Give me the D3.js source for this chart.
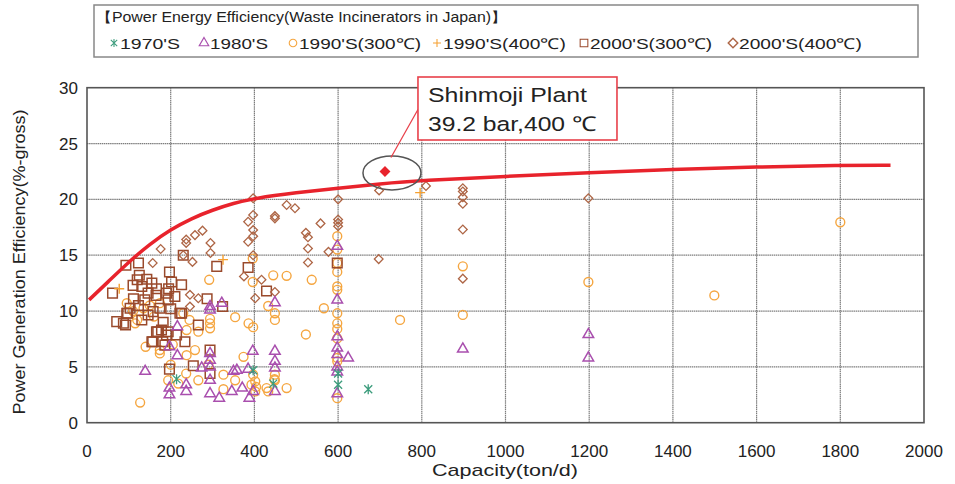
<!DOCTYPE html>
<html>
<head>
<meta charset="utf-8">
<script src="https://cdn.jsdelivr.net/npm/d3@7"></script>
<style>
  body { margin: 0; background: #fff; }
  svg { font-family: "Liberation Sans", Arial, sans-serif; }
</style>
</head>
<body>
<svg id="chart" width="955" height="484"></svg>
<script>
// values: [capacity ton/d, efficiency %]
const s1970 = [[214,3.9],[397,4.7],[445,3.5],[600,3.4],[600,4.4],[672,3.0]];

const s1980 = [[139,4.6],[197,3.1],[197,2.5],[237,3.4],[237,2.8],[216,8.6],[197,6.8],[216,6.0],
  [294,10.4],[294,10.1],[322,10.7],[294,6.2],[294,5.6],[294,5.0],[294,3.8],[294,2.6],[274,4.9],
  [316,2.2],[346,2.8],[350,4.6],[358,4.7],[371,3.1],[385,4.8],[396,6.4],[388,2.2],[397,2.8],
  [449,10.75],[449,6.4],[449,5.5],[449,4.9],[449,2.8],[598,15.8],[598,11.0],[598,7.7],[598,6.7],
  [598,6.1],[598,5.0],[598,4.55],[598,2.6],[624,5.8],[898,6.6],[1198,7.9],[1198,5.8]];

const s1990_300 = [[127,1.8],[292,12.8],[396,14.7],[396,12.6],[445,13.2],[477,13.15],[354,9.45],
  [386,8.9],[397,8.55],[433,10.45],[449,9.8],[449,9.2],[294,8.9],[294,8.45],[294,9.3],[266,8.15],
  [245,9.2],[238,8.3],[258,6.5],[238,6.05],[174,6.5],[174,6.2],[266,3.8],[237,4.4],[194,3.8],
  [218,3.5],[290,5.2],[326,4.3],[326,3.0],[354,3.8],[374,5.9],[402,3.7],[402,2.8],[397,4.3],
  [429,3.1],[449,4.3],[449,3.8],[477,3.1],[95,10.7],[115,8.9],[135,10.25],[174,10.7],[230,9.8],
  [598,16.7],[598,15.5],[598,14.3],[598,13.5],[598,12.2],[598,11.9],[598,9.8],[598,8.9],[598,8.4],
  [598,7.55],[598,5.8],[598,5.5],[598,2.2],[537,12.8],[566,10.25],[523,7.9],[748,9.2],[898,14.0],
  [898,9.65],[1198,12.6],[1800,17.95],[1499,11.4],[404,3.2],[393,3.4],[433,2.8],[448,3.9],
  [200,5.2],[160,9.5],[150,10.5],[110,10.0],[120,9.2],[205,7.0],[140,6.8]];

const s1990_400 = [[77,12.0],[325,14.6],[796,20.6]];

const s2000_300 = [[61,11.6],[93,14.1],[123,14.3],[125,13.2],[120,12.8],[143,12.85],[131,12.2],
  [155,12.5],[166,12.0],[146,11.6],[165,11.4],[111,11.1],[103,10.25],[123,10.5],[95,9.8],[71,9.05],
  [87,8.9],[131,9.2],[146,9.65],[158,9.95],[174,10.25],[194,11.0],[197,13.5],[202,12.6],[230,15.0],
  [190,11.6],[166,8.15],[178,8.3],[194,8.15],[190,7.85],[155,7.25],[186,6.95],[214,7.85],[234,7.25],
  [222,9.8],[266,8.75],[310,14.0],[385,13.9],[324,10.4],[287,11.1],[429,11.8],[294,6.5],[254,5.1],
  [294,4.4],[197,4.8],[226,12.35],[226,9.8],[598,14.3],[97,9.8],[92,8.75],[169,8.15],[157,7.25],
  [181,7.25],[195,12.0],[110,12.3],[138,11.0],[210,11.3],[200,10.2],[182,9.0]];

const s2000_400 = [[176,15.55],[157,14.3],[237,16.4],[237,16.1],[258,16.8],[276,17.2],[295,16.1],
  [295,15.2],[252,14.4],[230,15.0],[397,20.1],[397,18.6],[385,18.0],[397,17.25],[385,16.2],
  [397,16.7],[449,18.5],[449,18.3],[477,19.5],[497,19.2],[375,13.1],[417,12.8],[449,11.7],
  [402,11.15],[246,11.45],[266,11.15],[246,10.4],[558,17.85],[523,17.0],[528,16.6],[528,15.6],
  [577,15.3],[528,14.35],[697,14.65],[698,20.8],[600,20.0],[600,18.2],[600,17.9],[600,17.6],
  [898,21.0],[898,20.7],[898,20.2],[898,19.6],[898,17.3],[898,12.9],[810,21.2],[1198,20.1],[397,15.0]];

const curve = [[5,11.0],[50,12.6],[100,14.4],[150,16.0],[200,17.3],[250,18.3],[300,19.05],[350,19.65],
  [400,20.1],[500,20.6],[600,21.0],[700,21.4],[800,21.7],[1000,22.05],[1200,22.4],[1400,22.7],
  [1600,22.9],[1800,23.05],[1920,23.05]];

const shinmoji = [712, 22.5];

const xTicks = [0,200,400,600,800,1000,1200,1400,1600,1800,2000];
const yTicks = [0,5,10,15,20,25,30];

const svg = d3.select("#chart");
const x = d3.scaleLinear().domain([0, 2000]).range([87, 924]);
const y = d3.scaleLinear().domain([0, 30]).range([422.7, 87.7]);

// grid
svg.append("g").selectAll("line").data(xTicks.slice(1, -1)).enter().append("line")
  .attr("x1", d => x(d)).attr("x2", d => x(d)).attr("y1", y(0)).attr("y2", y(30))
  .attr("stroke", "#7d7d7d").attr("stroke-width", 1.2).attr("stroke-dasharray", "1.5,0.6");
svg.append("g").selectAll("line").data(yTicks.slice(1, -1)).enter().append("line")
  .attr("y1", d => y(d)).attr("y2", d => y(d)).attr("x1", x(0)).attr("x2", x(2000))
  .attr("stroke", "#7d7d7d").attr("stroke-width", 1.2).attr("stroke-dasharray", "1.5,0.6");

// frame
svg.append("rect").attr("x", x(0)).attr("y", y(30))
  .attr("width", x(2000) - x(0)).attr("height", y(0) - y(30))
  .attr("fill", "none").attr("stroke", "#555").attr("stroke-width", 1.6);

// tick labels
svg.append("g").selectAll("text").data(xTicks).enter().append("text")
  .attr("x", d => x(d)).attr("y", 457).attr("text-anchor", "middle")
  .attr("font-size", 17).attr("fill", "#222").text(d => d);
svg.append("g").selectAll("text").data(yTicks).enter().append("text")
  .attr("x", 78).attr("y", d => y(d) + 6).attr("text-anchor", "end")
  .attr("font-size", 17).attr("fill", "#222").text(d => d);

svg.append("text").attr("x", 505).attr("y", 476).attr("text-anchor", "middle")
  .attr("font-size", 17).attr("fill", "#222")
  .attr("textLength", 146).attr("lengthAdjust", "spacingAndGlyphs")
  .text("Capacity(ton/d)");
svg.append("text").attr("transform", "translate(25,262) rotate(-90)").attr("text-anchor", "middle")
  .attr("font-size", 16).attr("fill", "#222")
  .attr("textLength", 305).attr("lengthAdjust", "spacingAndGlyphs")
  .text("Power Generation Efficiency(%-gross)");

// marker shapes
const sq = d3.symbol().type(d3.symbolSquare).size(92)();
const circ = d3.symbol().type(d3.symbolCircle).size(62)();
const tri = d3.symbol().type(d3.symbolTriangle).size(48)();
const dia = d3.symbol().type(d3.symbolSquare).size(38)();
const plus = "M-5,0H5M0,-5V5";
const star = "M-4,-4L4,4M-4,4L4,-4M0,-5V5";

const series = [
  { data: s1990_300, path: circ, color: "#f5a640", rot: 0, sw: 1.4 },
  { data: s2000_300, path: sq, color: "#9a4a2c", rot: 0, sw: 1.5 },
  { data: s2000_400, path: dia, color: "#ae6646", rot: 45, sw: 1.3 },
  { data: s1980, path: tri, color: "#a94fae", rot: 0, sw: 1.5 },
  { data: s1990_400, path: plus, color: "#f5a030", rot: 0, sw: 1.4 },
  { data: s1970, path: star, color: "#3c9c7c", rot: 0, sw: 1.3 }
];

series.forEach(s => {
  svg.append("g").selectAll("path").data(s.data).enter().append("path")
    .attr("d", s.path)
    .attr("transform", d => `translate(${x(d[0])},${y(d[1])}) rotate(${s.rot})`)
    .attr("fill", "none").attr("stroke", s.color).attr("stroke-width", s.sw);
});

// trend curve
svg.append("path").datum(curve)
  .attr("d", d3.line().x(d => x(d[0])).y(d => y(d[1])).curve(d3.curveBasis))
  .attr("fill", "none").attr("stroke", "#e8232c").attr("stroke-width", 3.5);

// Shinmoji plant
const sx = x(shinmoji[0]), sy = y(shinmoji[1]);
svg.append("ellipse").attr("cx", sx + 7).attr("cy", sy + 1.5).attr("rx", 29).attr("ry", 17)
  .attr("fill", "none").attr("stroke", "#555").attr("stroke-width", 1.5);
svg.append("path").attr("d", d3.symbol().type(d3.symbolSquare).size(60)())
  .attr("transform", `translate(${sx},${sy}) rotate(45)`).attr("fill", "#e8232c");
svg.append("line").attr("x1", sx + 6).attr("y1", sy - 14).attr("x2", sx + 33).attr("y2", sy - 62)
  .attr("stroke", "#e8404a").attr("stroke-width", 1.3);
svg.append("rect").attr("x", sx + 33).attr("y", 77).attr("width", 199).attr("height", 63)
  .attr("fill", "#fff").attr("stroke", "#e8404a").attr("stroke-width", 1.6);
svg.append("text").attr("x", sx + 43).attr("y", 102).attr("font-size", 20.5).attr("fill", "#222")
  .attr("textLength", 159).attr("lengthAdjust", "spacingAndGlyphs")
  .text("Shinmoji Plant");
svg.append("text").attr("x", sx + 43).attr("y", 131).attr("font-size", 20.5).attr("fill", "#222")
  .attr("textLength", 168).attr("lengthAdjust", "spacingAndGlyphs")
  .text("39.2 bar,400 \u2103");

// legend
svg.append("rect").attr("x", 94).attr("y", 5).attr("width", 824).attr("height", 52)
  .attr("fill", "#fff").attr("stroke", "#888").attr("stroke-width", 1.5);
svg.append("text").attr("x", 96).attr("y", 22).attr("font-size", 14).attr("fill", "#222")
  .attr("textLength", 411).attr("lengthAdjust", "spacingAndGlyphs")
  .text("\u3010Power Energy Efficiency(Waste Incinerators in Japan)\u3011");

const legendNames = ["1970'S", "1980'S", "1990'S(300\u2103)", "1990'S(400\u2103)", "2000'S(300\u2103)", "2000'S(400\u2103)"];
const legendX = [114, 204, 293, 437, 584, 733];
const legendEnd = [180, 268, 421, 566, 712, 862];
const legendSeries = [series[5], series[3], series[0], series[4], series[1], series[2]];
const legendScale = [0.8, 0.9, 0.85, 0.8, 0.8, 1.1];

legendNames.forEach((name, i) => {
  const s = legendSeries[i];
  svg.append("path").attr("d", s.path)
    .attr("transform", `translate(${legendX[i]},43) rotate(${s.rot}) scale(${legendScale[i]})`)
    .attr("fill", "none").attr("stroke", s.color).attr("stroke-width", 1.3);
  svg.append("text").attr("x", legendX[i] + 6).attr("y", 49).attr("font-size", 15).attr("fill", "#222")
    .attr("textLength", legendEnd[i] - legendX[i] - 6).attr("lengthAdjust", "spacingAndGlyphs")
    .text(name);
});
</script>
</body>
</html>
